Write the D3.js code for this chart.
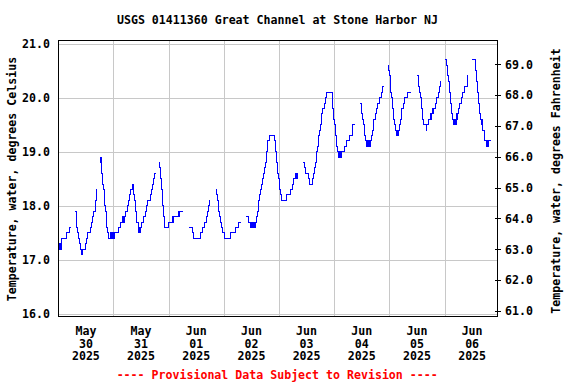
<!DOCTYPE html>
<html><head><meta charset="utf-8">
<script src="https://cdn.jsdelivr.net/npm/d3@7"></script>
<style>
body{margin:0;background:#fff}
svg text{font-family:"DejaVu Sans Mono",monospace;font-weight:bold;font-size:11.6px;fill:#000}
</style>
</head><body>
<svg id="chart" width="576" height="384"></svg>
<script>
// ---------------- data ----------------
const chartTitle = "USGS 01411360 Great Channel at Stone Harbor NJ";
const leftAxisTitle = "Temperature, water, degrees Celsius";
const rightAxisTitle = "Temperature, water, degrees Fahrenheit";
const footnote = "---- Provisional Data Subject to Revision ----";

const startDay = [2025, 4, 30];      // May 30 2025 (UTC), start of plotted period
const periodDays = 8;
const dayLabels = [
  ["May","30","2025"],["May","31","2025"],["Jun","01","2025"],["Jun","02","2025"],
  ["Jun","03","2025"],["Jun","04","2025"],["Jun","05","2025"],["Jun","06","2025"]
];
const celsiusTicks = [16, 17, 18, 19, 20, 21];
const fahrenheitTicks = [61, 62, 63, 64, 65, 66, 67, 68, 69];

// readings: [hours since May 30 00:00, temperature degC]; each inner array is a continuous run
const segA = [[0,17.2],[0.4,17.3],[0.6,17.2],[0.8,17.3],[1.1,17.2],[1.3,17.3],[1.6,17.4],[3.4,17.5],[4.7,17.6],[5.4,17.6]];
const segB = [[7.3,17.9],[7.7,17.8],[8.0,17.7],[8.1,17.6],[8.4,17.5],[8.7,17.4],[9.1,17.3],[9.6,17.2],[10.3,17.1],[10.6,17.2],[11.9,17.3],[12.4,17.4],[12.9,17.5],[13.9,17.6],[14.4,17.7],[14.8,17.8],[15.3,17.9],[16.0,18.0],[16.3,18.1],[16.5,18.2],[16.7,18.3],[17.0,18.3]];
const segC = [[18.1,18.8],[18.4,18.9],[18.7,18.8],[18.9,18.7],[19.0,18.6],[19.1,18.5],[19.4,18.4],[19.7,18.3],[20.0,18.2],[20.2,18.1],[20.3,18.0],[20.6,17.9],[20.8,17.8],[20.9,17.7],[21.1,17.6],[21.3,17.5],[21.8,17.4],[22.5,17.5],[22.6,17.4],[22.9,17.5],[23.2,17.4],[23.6,17.5],[23.8,17.4],[24.4,17.5],[26.0,17.6],[27.1,17.7],[27.9,17.8],[28.2,17.7],[28.5,17.8],[28.8,17.7],[28.9,17.8],[29.2,17.9],[29.9,18.0],[30.5,18.1],[31.1,18.2],[31.6,18.3],[32.1,18.4],[32.7,18.3],[32.9,18.2],[33.2,18.1],[33.5,18.0],[33.7,17.9],[33.9,17.8],[34.2,17.7],[34.7,17.6],[35.0,17.5],[35.3,17.6],[35.5,17.5],[35.8,17.6],[36.4,17.7],[37.0,17.8],[37.9,17.9],[38.5,18.0],[39.0,18.1],[40.0,18.2],[40.5,18.3],[40.9,18.4],[41.3,18.5],[41.8,18.6],[42.5,18.6]];
const segD = [[43.7,18.8],[44.1,18.7],[44.4,18.6],[44.5,18.5],[44.8,18.4],[45.0,18.3],[45.2,18.2],[45.4,18.1],[45.5,18.0],[45.7,17.9],[45.8,17.8],[46.0,17.7],[46.3,17.6],[48.0,17.7],[49.8,17.8],[50.0,17.7],[50.3,17.8],[52.1,17.9],[52.3,17.8],[52.6,17.9],[54.4,17.9]];
const segE = [[57.0,17.6],[58.5,17.5],[58.9,17.4],[61.9,17.5],[62.8,17.6],[63.7,17.7],[64.6,17.8],[65.0,17.9],[65.4,18.0],[65.7,18.1],[66.1,18.1]];
const segF = [[68.6,18.3],[68.9,18.2],[69.3,18.1],[69.6,18.0],[69.9,17.9],[70.2,17.8],[70.6,17.7],[70.9,17.6],[71.5,17.5],[72.2,17.4],[74.7,17.5],[77.0,17.6],[78.5,17.7],[79.3,17.7]];
const segG = [[81.7,17.8],[82.7,17.7],[83.8,17.6],[84.2,17.7],[84.6,17.6],[85.0,17.7],[85.3,17.6],[85.7,17.7],[86.0,17.8],[86.5,17.9],[86.9,18.0],[87.3,18.1],[87.6,18.2],[88.0,18.3],[88.5,18.4],[88.9,18.5],[89.3,18.6],[89.6,18.7],[90.0,18.8],[90.4,18.9],[90.7,19.0],[90.9,19.1],[91.2,19.2],[91.8,19.3],[94.0,19.2],[94.3,19.1],[94.6,19.0],[94.8,18.9],[95.0,18.8],[95.3,18.7],[95.4,18.6],[95.7,18.5],[96.0,18.4],[96.3,18.3],[96.6,18.2],[96.9,18.1],[99.1,18.2],[100.9,18.3],[101.7,18.4],[102.4,18.5],[103.1,18.6],[103.7,18.5],[104.0,18.6],[104.1,18.6]];
const segH = [[106.6,18.8],[107.0,18.7],[107.4,18.6],[108.8,18.5],[109.2,18.4],[110.7,18.5],[110.9,18.6],[111.5,18.7],[111.8,18.8],[112.1,18.9],[112.4,19.0],[112.7,19.1],[113.0,19.2],[113.3,19.3],[113.7,19.4],[114.0,19.5],[114.4,19.6],[114.7,19.7],[115.1,19.8],[115.6,19.9],[116.1,20.0],[116.6,20.1],[119.1,20.0],[119.2,19.9],[119.4,19.8],[119.6,19.7],[119.9,19.6],[120.2,19.5],[120.5,19.4],[120.7,19.3],[120.9,19.2],[121.1,19.1],[121.4,19.0],[121.7,18.9],[122.2,19.0],[122.5,18.9],[122.9,19.0],[123.1,18.9],[123.3,19.0],[124.3,19.1],[125.5,19.2],[126.6,19.3],[127.8,19.4],[127.9,19.5],[128.9,19.5]];
const segI = [[131.2,19.9],[131.7,19.8],[132.1,19.7],[132.5,19.6],[132.7,19.5],[133.0,19.4],[133.4,19.3],[133.7,19.2],[134.0,19.1],[134.6,19.2],[134.8,19.1],[135.2,19.2],[135.4,19.1],[135.6,19.2],[136.3,19.3],[136.8,19.4],[136.9,19.5],[137.3,19.6],[137.8,19.7],[138.2,19.8],[138.9,19.9],[139.7,20.0],[140.4,20.1],[140.9,20.2],[141.6,20.2]];
const segJ = [[143.4,20.6],[143.7,20.5],[144.0,20.4],[144.3,20.3],[144.4,20.2],[144.7,20.1],[144.9,20.0],[145.2,19.9],[145.5,19.8],[145.7,19.7],[146.0,19.6],[146.3,19.5],[146.6,19.4],[147.0,19.3],[147.4,19.4],[147.6,19.3],[147.8,19.4],[148.3,19.5],[148.8,19.6],[149.2,19.7],[149.5,19.8],[150.1,19.9],[150.8,20.0],[151.9,20.1],[153.3,20.1]];
const segK = [[156.2,20.4],[156.5,20.3],[156.8,20.2],[157.0,20.1],[157.5,20.0],[157.8,19.9],[158.1,19.8],[158.3,19.7],[158.6,19.6],[159.0,19.5],[160.0,19.4],[160.3,19.5],[161.1,19.6],[161.8,19.7],[162.1,19.6],[162.4,19.7],[162.9,19.8],[163.1,19.7],[163.4,19.8],[164.0,19.9],[164.7,20.0],[165.5,20.1],[166.0,20.2],[166.2,20.3],[166.3,20.3]];
const segL = [[168.3,20.7],[168.8,20.6],[169.1,20.5],[169.4,20.4],[169.7,20.3],[170.0,20.2],[170.1,20.1],[170.4,20.0],[170.7,19.9],[171.0,19.8],[171.1,19.7],[171.4,19.6],[171.7,19.5],[172.4,19.6],[172.7,19.5],[173.0,19.6],[173.3,19.7],[173.5,19.6],[173.7,19.7],[174.2,19.8],[174.7,19.9],[175.3,20.0],[175.9,20.1],[176.6,20.2],[177.8,20.3],[178.2,20.4],[178.4,20.4]];
const segM = [[180.0,20.7],[181.3,20.6],[181.6,20.5],[181.8,20.4],[182.1,20.3],[182.3,20.2],[182.4,20.1],[182.7,20.0],[182.9,19.9],[183.1,19.8],[183.4,19.7],[183.7,19.6],[184.0,19.5],[184.3,19.6],[184.4,19.5],[184.7,19.4],[185.2,19.3],[185.5,19.2],[186.3,19.1],[186.5,19.2],[186.7,19.1],[187.0,19.2],[188.1,19.2]];
const segments = [segA, segB, segC, segD, segE, segF, segG, segH, segI, segJ, segK, segL, segM];

// ---------------- layout ----------------
const frame = {left: 58.5, right: 497.5, top: 40.5, bottom: 316};
const svg = d3.select("#chart");
const HOUR = 3600e3, DAY = 24 * HOUR;
const t0 = Date.UTC(...startDay);

const x = d3.scaleUtc().domain([new Date(t0), new Date(t0 + periodDays * DAY)]).range([58.3, 499.7]);
const yC = d3.scaleLinear().domain([16, 21]).range([314, 43.5]);
const yF = d3.scaleLinear().domain([61, 69]).range([311, 64.3]);

const grid = svg.append("g").attr("stroke", "#c8c8c8").attr("stroke-width", 1).attr("shape-rendering", "crispEdges");
grid.selectAll("line.h").data(celsiusTicks).join("line")
  .attr("x1", frame.left).attr("x2", frame.right)
  .attr("y1", d => Math.round(yC(d)) + 0.5).attr("y2", d => Math.round(yC(d)) + 0.5);
const midnights = d3.range(1, periodDays).map(i => new Date(t0 + i * DAY));
grid.selectAll("line.v").data(midnights).join("line")
  .attr("x1", d => Math.round(x(d)) + 0.5).attr("x2", d => Math.round(x(d)) + 0.5)
  .attr("y1", frame.top).attr("y2", frame.bottom);

// data line
const line = d3.line()
  .x(d => x(new Date(t0 + d[0] * HOUR)))
  .y(d => yC(d[1]))
  .curve(d3.curveStepAfter);
svg.append("g").selectAll("path").data(segments).join("path")
  .attr("d", line)
  .attr("fill", "none").attr("stroke", "#0000ff").attr("stroke-width", 1)
  .attr("shape-rendering", "crispEdges");

// frame
svg.append("rect")
  .attr("x", frame.left).attr("y", frame.top)
  .attr("width", frame.right - frame.left).attr("height", frame.bottom - frame.top)
  .attr("fill", "none").attr("stroke", "#000").attr("stroke-width", 1)
  .attr("shape-rendering", "crispEdges");

// left axis labels
svg.append("g").selectAll("text").data(celsiusTicks).join("text")
  .attr("x", 50).attr("y", d => yC(d) + 4.2).attr("text-anchor", "end")
  .text(d => d.toFixed(1));

// right axis ticks & labels
svg.append("g").attr("stroke", "#000").attr("shape-rendering", "crispEdges")
  .selectAll("line").data(fahrenheitTicks).join("line")
  .attr("x1", frame.right - 3).attr("x2", frame.right + 3)
  .attr("y1", d => Math.round(yF(d)) + 0.5).attr("y2", d => Math.round(yF(d)) + 0.5);
svg.append("g").selectAll("text").data(fahrenheitTicks).join("text")
  .attr("x", 505).attr("y", d => yF(d) + 4.2).attr("text-anchor", "start")
  .text(d => d.toFixed(1));

// x labels centered at noon
const xl = svg.append("g").selectAll("text").data(dayLabels).join("text")
  .attr("text-anchor", "middle")
  .attr("transform", (d, i) => `translate(${x(new Date(t0 + i * DAY + 12 * HOUR))},335)`);
xl.selectAll("tspan").data(d => d).join("tspan")
  .attr("x", 0).attr("y", (d, i) => i * 12.5).text(d => d);

// titles
svg.append("text").attr("x", 277.5).attr("y", 23.7).attr("text-anchor", "middle").text(chartTitle);
svg.append("text").attr("transform", "translate(16,179) rotate(-90)").attr("text-anchor", "middle").text(leftAxisTitle);
svg.append("text").attr("transform", "translate(560,181) rotate(-90)").attr("text-anchor", "middle").text(rightAxisTitle);
svg.append("text").attr("x", 277.2).attr("y", 379).attr("text-anchor", "middle").style("fill", "#ff0000").text(footnote);
</script>
</body></html>
